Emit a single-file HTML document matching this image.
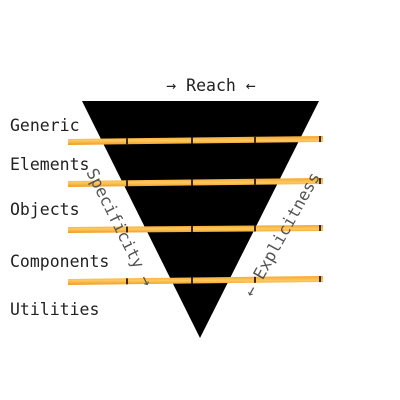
<!DOCTYPE html>
<html><head><meta charset="utf-8"><style>
html,body{margin:0;padding:0;background:#fff;}
svg{display:block;}
text{font-family:"DejaVu Sans Mono","Liberation Mono",monospace;}
</style></head><body>
<svg id="c" width="400" height="400" viewBox="0 0 400 400">
<defs>
<linearGradient id="st" x1="0" x2="0" y1="0" y2="1">
<stop offset="0" stop-color="#f4a52c"/><stop offset="0.5" stop-color="#ffc95e"/><stop offset="1" stop-color="#ee9a22"/>
</linearGradient>
</defs>
<polygon points="82,101 319,101 200,338" fill="#000"/>
<text x="211" y="91" text-anchor="middle" font-size="16.5" fill="#222">→ Reach ←</text>
<g id="layers"></g>
<text transform="translate(86,172) rotate(63.5)" font-size="16.5" fill="#555">Specificity →</text>
<text transform="translate(253,298) rotate(-61)" font-size="16.5" fill="#555">← Explicitness</text>
</svg>
<script>
const layerNames = ["Generic","Elements","Objects","Components","Utilities"];
const labelBaselines = [131,170,215,267,315];
const dividerLeftY = [142,184,230,282];
const dividerRightY = [139,181,228,279];
const ns="http://www.w3.org/2000/svg";
const g=document.getElementById('layers');
const ticksX=[127,192,255,320];
dividerLeftY.forEach((yl,i)=>{
  const yr=dividerRightY[i];
  const p=document.createElementNS(ns,'polygon');
  p.setAttribute('points',`68,${yl-3} 323,${yr-3} 323,${yr+3} 68,${yl+3}`);
  p.setAttribute('fill','url(#st)');
  
  
  g.appendChild(p);
  ticksX.forEach(x=>{
    const y=yl+(yr-yl)*(x-68)/255;
    const r=document.createElementNS(ns,'rect');
    r.setAttribute('x',x-1);r.setAttribute('y',y-3);r.setAttribute('width',2);r.setAttribute('height',6);
    r.setAttribute('fill','#3a2a10');
    
    
    g.appendChild(r);
  });
});
layerNames.forEach((n,i)=>{
  const t=document.createElementNS(ns,'text');
  t.setAttribute('x',10);t.setAttribute('y',labelBaselines[i]);
  t.setAttribute('font-size','16.5');t.setAttribute('fill','#222');
  t.textContent=n;
  
  
  g.appendChild(t);
});
</script>
</body></html>
